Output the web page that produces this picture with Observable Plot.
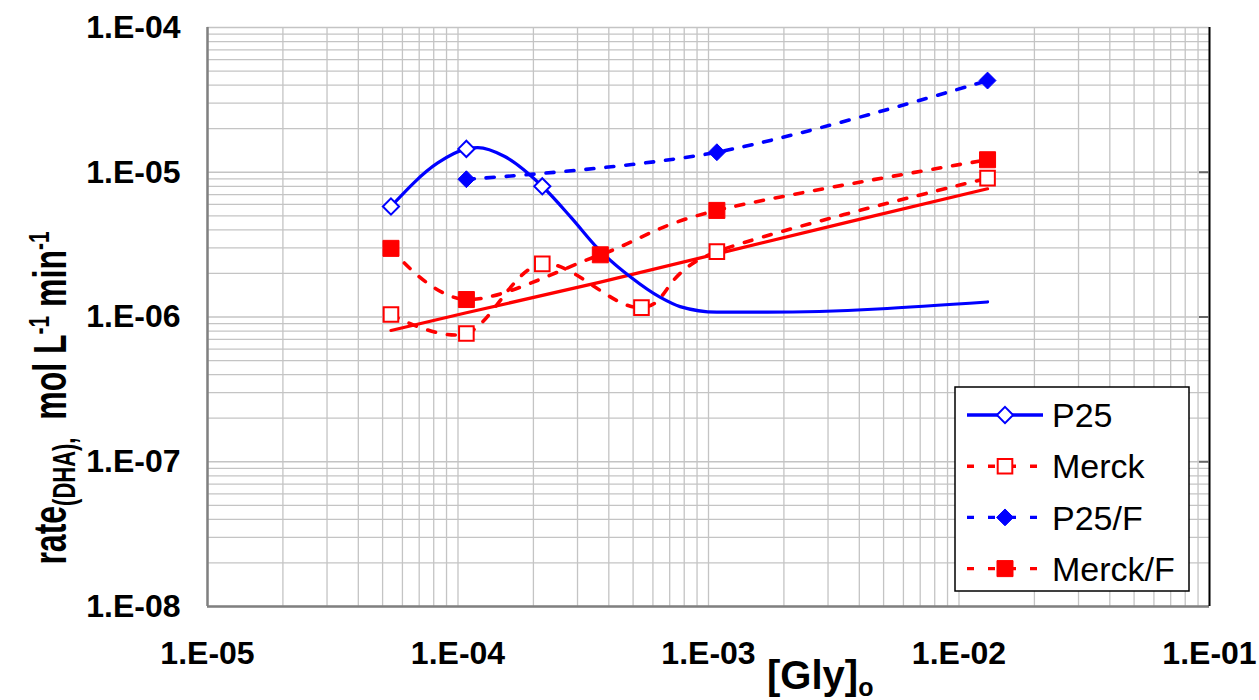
<!DOCTYPE html>
<html>
<head>
<meta charset="utf-8">
<script src="https://cdn.jsdelivr.net/npm/d3@7"></script>
<script src="https://cdn.jsdelivr.net/npm/@observablehq/plot@0.6"></script>
<style>
  html, body { margin: 0; padding: 0; background: #fff; }
  #chart svg { display: block; }
</style>
</head>
<body>
<div id="chart"></div>
<script>
// ---- data ----
// P25 (open diamonds, measured points)
const p25X = [5.4e-5, 1.08e-4, 2.17e-4];
const p25Y = [5.8e-6, 1.45e-5, 8.0e-6];
// P25 solid curve
const p25CurveX = [5.4e-5, 8.3e-5, 1.08e-4, 1.2e-4, 1.53e-4, 2.17e-4, 2.82e-4, 3.6e-4, 4.9e-4, 6.4e-4, 7.7e-4, 1.08e-3, 1.72e-3, 1.3e-2];
const p25CurveY = [5.8e-6, 1.16e-5, 1.45e-5, 1.48e-5, 1.29e-5, 8.0e-6, 4.9e-6, 3.0e-6, 1.88e-6, 1.37e-6, 1.18e-6, 1.08e-6, 1.08e-6, 1.27e-6];
// Merck (open squares)
const merckX = [5.4e-5, 1.08e-4, 2.17e-4, 5.4e-4, 1.08e-3, 1.3e-2];
const merckY = [1.04e-6, 7.7e-7, 2.33e-6, 1.16e-6, 2.83e-6, 9.1e-6];
// Merck solid line
const merckLineX = [5.4e-5, 1.08e-4, 3.7e-4, 1.08e-3, 3.6e-3, 1.3e-2];
const merckLineY = [8.07e-7, 1.07e-6, 1.74e-6, 2.73e-6, 4.52e-6, 7.69e-6];
// P25/F (filled diamonds)
const p25fX = [1.08e-4, 1.08e-3, 1.3e-2];
const p25fY = [8.95e-6, 1.375e-5, 4.3e-5];
// Merck/F (filled squares)
const merckfX = [5.4e-5, 1.08e-4, 3.7e-4, 1.08e-3, 1.3e-2];
const merckfY = [2.98e-6, 1.32e-6, 2.69e-6, 5.45e-6, 1.22e-5];

const xMajor = [1e-5, 1e-4, 1e-3, 1e-2, 1e-1];
const yMajor = [1e-8, 1e-7, 1e-6, 1e-5, 1e-4];
const legendNames = ["P25", "Merck", "P25/F", "Merck/F"];

// ---- helpers ----
const zip = (xs, ys) => xs.map((x, i) => ({x, y: ys[i]}));
const minorGrid = (lo, hi) => {
  const out = [];
  for (let e = lo; e < hi; e++) for (let k = 1; k <= 9; k++) out.push(k * Math.pow(10, e));
  out.push(Math.pow(10, hi));
  return out;
};
const fmt = d => {
  const e = Math.round(Math.log10(d));
  return "1.E" + (e < 0 ? "-" : "+") + String(Math.abs(e)).padStart(2, "0");
};
const FONT = "'Liberation Sans', Arial, Helvetica, sans-serif";
const BLUE = "#0000ff", RED = "#ff0000";
const DASH = "8,12";

const chart = Plot.plot({
  width: 1259,
  height: 700,
  marginLeft: 207,
  marginRight: 50,
  marginTop: 27,
  marginBottom: 94,
  style: {fontFamily: FONT, background: "#fff", color: "#000"},
  x: {type: "log", domain: [1e-5, 1e-1]},
  y: {type: "log", domain: [1e-8, 1e-4]},
  marks: [
    Plot.ruleX(minorGrid(-5, -1), {stroke: "#c4c4c4", strokeWidth: 1.3}),
    Plot.ruleY(minorGrid(-8, -4), {stroke: "#c4c4c4", strokeWidth: 1.3}),
    Plot.ruleX([1e-5], {stroke: "#808080", strokeWidth: 2.5}),
    Plot.ruleY([1e-8], {stroke: "#808080", strokeWidth: 2.5}),
    Plot.ruleX([1e-1], {stroke: "#000", strokeWidth: 2}),
    Plot.ruleY(yMajor.slice(1, 4), {x1: 1e-1, x2: 1e-1, insetLeft: -10, stroke: "#666", strokeWidth: 2}),
    Plot.axisX(xMajor, {tickFormat: fmt, tickSize: 0, tickPadding: 35, fontSize: 32, fontWeight: "bold", label: null}),
    Plot.axisY(yMajor, {tickFormat: fmt, tickSize: 0, tickPadding: 27, fontSize: 32, fontWeight: "bold", label: null}),
    // lines
    Plot.line(zip(merckLineX, merckLineY), {x: "x", y: "y", stroke: RED, strokeWidth: 3.2}),
    Plot.line(zip(merckX, merckY), {x: "x", y: "y", stroke: RED, strokeWidth: 3.6, strokeDasharray: DASH, curve: "cardinal"}),
    Plot.line(zip(merckfX, merckfY), {x: "x", y: "y", stroke: RED, strokeWidth: 3.6, strokeDasharray: DASH, curve: "cardinal"}),
    Plot.line(zip(p25fX, p25fY), {x: "x", y: "y", stroke: BLUE, strokeWidth: 3.6, strokeDasharray: DASH, curve: "cardinal"}),
    Plot.line(zip(p25CurveX, p25CurveY), {x: "x", y: "y", stroke: BLUE, strokeWidth: 3.2, curve: "monotone-x"}),
    // markers
    Plot.dot(zip(merckX, merckY), {x: "x", y: "y", symbol: "square2", r: 9.3, stroke: RED, strokeWidth: 2, fill: "#fff"}),
    Plot.dot(zip(merckfX, merckfY), {x: "x", y: "y", symbol: "square2", r: 10.2, stroke: RED, strokeWidth: 1, fill: RED}),
    Plot.dot(zip(p25X, p25Y), {x: "x", y: "y", symbol: "diamond2", r: 7.3, stroke: BLUE, strokeWidth: 2, fill: "#fff"}),
    Plot.dot(zip(p25fX, p25fY), {x: "x", y: "y", symbol: "diamond2", r: 7.6, stroke: BLUE, strokeWidth: 1, fill: BLUE})
  ]
});

document.getElementById("chart").appendChild(chart);

// ---- titles and legend ----
const svg = d3.select(chart);

// y title
const yt = svg.append("text")
  .attr("transform", "translate(66,398) scale(1.42,1) rotate(-90)")
  .attr("text-anchor", "middle")
  .attr("font-family", FONT).attr("font-weight", "bold").attr("font-size", 32).attr("fill", "#000");
yt.append("tspan").text("rate");
yt.append("tspan").attr("font-size", 22).attr("dy", 6).text("(DHA),");
yt.append("tspan").attr("dy", -6).text("\u00a0 mol L");
yt.append("tspan").attr("font-size", 21).attr("dy", -12).text("-1");
yt.append("tspan").attr("dy", 12).text(" min");
yt.append("tspan").attr("font-size", 21).attr("dy", -12).text("-1");

// x title
const xt = svg.append("text")
  .attr("x", 767).attr("y", 689)
  .attr("text-anchor", "start")
  .attr("font-family", FONT).attr("font-weight", "bold").attr("font-size", 40).attr("fill", "#000");
xt.append("tspan").text("[Gly]");
xt.append("tspan").attr("font-size", 25).attr("dy", 7).text("o");

// legend
const lg = svg.append("g");
lg.append("rect").attr("x", 955).attr("y", 387).attr("width", 234).attr("height", 204)
  .attr("fill", "#fff").attr("stroke", "#000").attr("stroke-width", 1.5);
const rows = [
  {name: legendNames[0], color: BLUE, dash: null, sym: d3.symbolDiamond2, r: 7.3, fill: "#fff", sw: 2},
  {name: legendNames[1], color: RED, dash: "7,14", sym: d3.symbolSquare2, r: 9.3, fill: "#fff", sw: 2},
  {name: legendNames[2], color: BLUE, dash: "7,14", sym: d3.symbolDiamond2, r: 7.6, fill: BLUE, sw: 1},
  {name: legendNames[3], color: RED, dash: "7,14", sym: d3.symbolSquare2, r: 10.2, fill: RED, sw: 1}
];
rows.forEach((d, i) => {
  const cy = 415 + i * 51.2;
  lg.append("line").attr("x1", 967).attr("x2", 1043).attr("y1", cy).attr("y2", cy)
    .attr("stroke", d.color).attr("stroke-width", 3.4)
    .attr("stroke-dasharray", d.dash);
  lg.append("path").attr("transform", `translate(1005,${cy})`)
    .attr("d", d3.symbol(d.sym, d.r * d.r * Math.PI)())
    .attr("fill", d.fill).attr("stroke", d.color).attr("stroke-width", d.sw);
  lg.append("text").attr("x", 1052).attr("y", cy).attr("dy", "0.36em")
    .attr("text-anchor", "start")
    .attr("font-family", FONT).attr("font-size", 34).attr("fill", "#000").text(d.name);
});
</script>
</body>
</html>
